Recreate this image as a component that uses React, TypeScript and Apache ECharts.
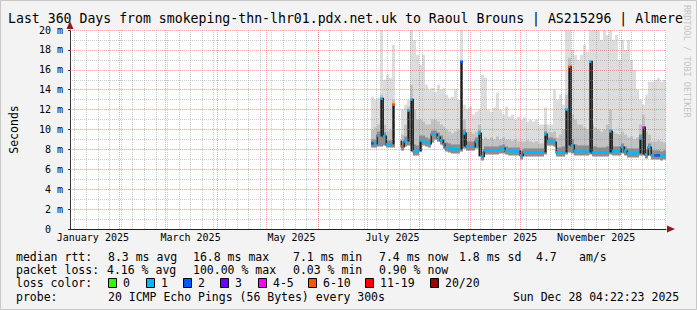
import React, { useEffect, useRef } from 'react';
import * as echarts from 'echarts';

const MONO = "'DejaVu Sans Mono', monospace";
const DAY_MS = 86400000;
const GRAPH_START = Date.UTC(2025, 0, 2, 4, 22, 23);
const GRAPH_DAYS = 360;
const dayOf = (iso: string) => (Date.parse(iso + 'T00:00:00Z') - GRAPH_START) / DAY_MS;

const titleText = 'Last 360 Days from smokeping-thn-lhr01.pdx.net.uk to Raoul Brouns | AS215296 | Almere';

// data bins (each bin = binDays), starting at dataStartDay (days since graph start)
const dataStartDay = 181.8;
const binDays = 1.8;

const median = [
  8.6, 8.6, 9.4, 13.1, 9.3, 8.5, 8.5, 12.5, null, null,
  8.3, 8.8, 11.9, 13.0, 7.8, 7.8, 8.9, 8.8, 8.7, 8.6,
  9.5, 9.5, 9.2, 8.9, 8.5, 8.2, 8.1, 8.0, 8.0, 8.0,
  16.8, 9.6, 8.3, 8.3, 8.3, 8.8, 9.6, 7.3, 7.9, 7.9,
  7.9, 7.9, 7.9, 8.0, 8.1, 7.85, 7.8, 7.8, 7.8, 7.8,
  7.4, 7.7, 7.7, 7.7, 7.7, 7.7, 7.7, 7.7, 9.5, 8.8,
  8.8, 8.7, 7.7, 7.7, 7.7, 12.0, 16.3, 8.4, 7.8, 7.8,
  7.8, 7.8, 7.8, 16.8, 7.7, 7.7, 7.7, 7.7, 7.7, 7.7,
  9.8, 7.8, 7.8, 7.8, 8.2, 7.8, 7.6, 7.6, 7.6, 7.6,
  9.1, 10.2, 7.5, 8.2, 7.4, 7.4, 7.4, 7.3, 7.4,
];

const smokeLow = [
  8.2, 8.2, 8.3, 8.3, 8.4, 8.2, 8.2, 8.2, null, null,
  7.9, 8.3, 8.4, 8.4, 7.4, 7.4, 7.8, 8.4, 8.3, 8.2,
  8.7, 9.0, 8.8, 8.5, 8.1, 7.8, 7.7, 7.6, 7.6, 7.6,
  7.8, 8.1, 7.9, 7.9, 7.9, 8.1, 8.2, 6.9, 7.5, 7.5,
  7.5, 7.5, 7.5, 7.6, 7.6, 7.5, 7.4, 7.4, 7.4, 7.4,
  7.0, 7.3, 7.3, 7.3, 7.3, 7.3, 7.3, 7.3, 7.5, 8.4,
  8.4, 8.3, 7.3, 7.3, 7.3, 7.5, 7.7, 7.6, 7.4, 7.4,
  7.4, 7.4, 7.4, 7.5, 7.3, 7.3, 7.3, 7.3, 7.3, 7.3,
  7.5, 7.4, 7.4, 7.4, 7.6, 7.4, 7.2, 7.2, 7.2, 7.2,
  7.4, 7.4, 7.1, 7.4, 7.0, 7.0, 7.0, 6.9, 7.0,
];

const smokeDark = [
  9.0, 9.0, 9.8, 13.1, 9.7, 8.9, 8.9, 12.5, null, null,
  8.8, 9.3, 11.9, 13.0, 8.5, 8.4, 9.4, 9.4, 9.2, 9.1,
  9.9, 9.9, 9.7, 9.4, 9.0, 8.7, 8.6, 8.5, 8.5, 8.5,
  16.8, 10.0, 8.8, 8.8, 8.8, 9.2, 9.9, 7.8, 8.3, 8.3,
  8.3, 8.3, 8.3, 8.4, 8.5, 8.3, 8.2, 8.2, 8.2, 8.2,
  7.9, 8.1, 8.1, 8.1, 8.1, 8.1, 8.1, 8.1, 9.8, 9.2,
  9.2, 9.1, 8.2, 8.2, 8.3, 12.0, 16.3, 9.0, 8.5, 8.4,
  8.4, 8.4, 8.4, 16.8, 8.3, 8.3, 8.2, 8.2, 8.2, 8.3,
  10.0, 8.3, 8.3, 8.3, 8.6, 8.3, 8.1, 8.1, 8.1, 8.1,
  9.5, 10.2, 8.0, 8.6, 7.9, 7.9, 7.9, 7.8, 7.9,
];

const smokeMid = [
  10.0, 10.2, 10.5, 13.5, 10.5, 9.8, 10.0, 13.0, null, null,
  9.5, 10.5, 12.3, 14.5, 12.0, 11.0, 11.0, 10.8, 10.5, 10.5,
  11.0, 11.0, 10.8, 10.5, 10.3, 10.0, 9.8, 9.6, 9.8, 10.0,
  17.0, 11.0, 9.8, 9.8, 9.6, 9.8, 10.5, 9.0, 9.2, 9.0,
  9.2, 9.0, 9.3, 9.0, 9.2, 9.0, 9.0, 8.9, 9.0, 8.8,
  8.8, 8.8, 8.9, 8.8, 8.7, 8.8, 8.6, 8.6, 10.5, 9.8,
  9.7, 9.8, 9.2, 9.5, 10.0, 13.5, 17.2, 11.5, 11.0, 10.5,
  10.5, 10.2, 10.0, 17.0, 10.5, 10.2, 10.0, 9.8, 10.0, 10.5,
  12.0, 9.8, 9.6, 9.5, 9.8, 9.5, 9.2, 9.3, 9.0, 9.2,
  10.5, 11.5, 9.8, 9.5, 8.8, 8.8, 8.9, 8.8, 8.7,
];

const smokeMax = [
  13.3, 13.0, 13.2, 20.5, 15.0, 15.5, 15.2, 18.5, null, null,
  12.0, 12.5, 13.0, 20.5, 19.0, 17.5, 16.5, 17.5, 14.5, 14.0,
  14.2, 13.8, 14.5, 14.0, 14.2, 13.5, 13.2, 13.3, 14.0, 13.0,
  20.5, 12.5, 12.0, 12.3, 11.5, 11.8, 12.0, 15.5, 15.2, 12.0,
  11.8, 12.2, 13.7, 12.0, 11.5, 12.3, 11.3, 11.5, 11.0, 11.3,
  11.0, 11.2, 10.8, 11.0, 10.8, 11.0, 10.5, 10.5, 12.2, 10.5,
  10.5, 14.0, 13.0, 13.5, 12.5, 20.5, 20.5, 18.0, 17.5, 17.0,
  17.5, 18.5, 17.8, 20.5, 20.5, 20.5, 20.5, 19.0, 20.5, 19.5,
  20.5, 19.0, 19.5, 17.0, 19.0, 18.0, 19.0, 17.0, 16.0, 14.0,
  13.0, 12.5, 13.5, 14.8, 14.8, 15.0, 15.2, 14.8, 15.0,
];

// packet loss class (lost pings out of 20) per bin
const lossClass = [
  2, 1, 1, 1, 1, 1, 1, 6, null, null,
  6, 1, 1, 1, 1, 1, 1, 1, 1, 1,
  1, 1, 1, 1, 1, 1, 1, 1, 1, 1,
  2, 1, 1, 1, 1, 1, 1, 1, 1, 1,
  1, 1, 1, 1, 1, 1, 1, 1, 1, 1,
  1, 1, 1, 1, 1, 1, 1, 1, 1, 1,
  1, 1, 1, 1, 1, 1, 6, 1, 1, 1,
  1, 1, 1, 1, 1, 1, 1, 1, 1, 1,
  1, 1, 1, 1, 1, 1, 1, 1, 1, 1,
  1, 4, 1, 1, 1, 2, 2, 1, 1,
];

const lossColor: Record<number, string> = {
  0: '#26ff00', 1: '#00b8ff', 2: '#0059ff', 3: '#7000ff', 4: '#ff00ff', 6: '#ff5500', 11: '#ff0000', 20: '#a00000',
};

const yTicks = [0, 2, 4, 6, 8, 10, 12, 14, 16, 18, 20];
const monthLabels = ['January 2025', 'March 2025', 'May 2025', 'July 2025', 'September 2025', 'November 2025'];
const monthLabelDates = ['2025-01-16', '2025-03-16', '2025-05-16', '2025-07-16', '2025-09-16', '2025-11-16'];
const monthStartDates = [
  '2025-02-01', '2025-03-01', '2025-04-01', '2025-05-01', '2025-06-01', '2025-07-01',
  '2025-08-01', '2025-09-01', '2025-10-01', '2025-11-01', '2025-12-01',
];
const firstWeekLine = '2025-01-05';

const medianStats = ['8.3 ms avg', '16.8 ms max', '7.1 ms min', '7.4 ms now', '1.8 ms sd', '4.7', 'am/s'];
const lossStats = ['4.16 % avg', '100.00 % max', '0.03 % min', '0.90 % now'];
const lossLegend = [
  { label: '0', color: '#26ff00' },
  { label: '1', color: '#00b8ff' },
  { label: '2', color: '#0059ff' },
  { label: '3', color: '#7000ff' },
  { label: '4-5', color: '#ff00ff' },
  { label: '6-10', color: '#ff5500' },
  { label: '11-19', color: '#ff0000' },
  { label: '20/20', color: '#a00000' },
];
const probeText = '20 ICMP Echo Pings (56 Bytes) every 300s';
const stampText = 'Sun Dec 28 04:22:23 2025';

export default function App() {
  const ref = useRef<HTMLDivElement>(null);

  useEffect(() => {
    if (!ref.current) return;
    const chart = echarts.init(ref.current, undefined, { renderer: 'svg' });

    const items: number[][] = [];
    median.forEach((m, i) => {
      if (m == null) return;
      const prevRaw = i > 0 ? median[i - 1] : null;
      const nextRaw = i < median.length - 1 ? median[i + 1] : null;
      const prev = prevRaw != null ? prevRaw : nextRaw != null ? nextRaw : m;
      const next = nextRaw != null ? nextRaw : prev;
      items.push([
        dataStartDay + i * binDays,
        smokeLow[i] as number,
        smokeDark[i] as number,
        smokeMid[i] as number,
        smokeMax[i] as number,
        m,
        lossClass[i] as number,
        prev,
        next,
      ]);
    });

    const renderSmoke = (_params: any, api: any) => {
      const x0 = api.value(0);
      const lo = api.value(1), dk = api.value(2), md = api.value(3), mx = api.value(4);
      const med = api.value(5), loss = api.value(6), prev = api.value(7), next = api.value(8);
      const left = Math.round(api.coord([x0, 0])[0]);
      const right = Math.round(api.coord([x0 + binDays, 0])[0]);
      const w = right - left;
      const py = (v: number) => api.coord([x0, v])[1];
      const kids: any[] = [];
      const band = (a: number, b: number, fill: string) => {
        const y1 = py(b), y2 = py(a);
        kids.push({ type: 'rect', shape: { x: left, y: y1, width: w, height: y2 - y1 }, style: { fill } });
      };
      band(lo, mx, '#dddddd');
      band(lo, md, '#c2c2c2');
      band(lo, dk, '#8e8e8e');
      const base = Math.min(prev, next);
      if (med - base > 1.0) {
        kids.push({ type: 'rect', shape: { x: left + 0.5, y: py(med), width: 2, height: py(base) - py(med) }, style: { fill: '#1e1e1e' } });
      } else if (Math.abs(med - prev) > 0.2) {
        const a = Math.min(med, prev), b = Math.max(med, prev);
        kids.push({ type: 'rect', shape: { x: left - 0.5, y: py(b) - 1, width: 1.5, height: py(a) - py(b) + 2 }, style: { fill: '#2a2a2a' } });
      }
      kids.push({ type: 'rect', shape: { x: left, y: py(med) - 1.25, width: w, height: 2.5 }, style: { fill: lossColor[loss] || '#00b8ff' } });
      return { type: 'group', children: kids };
    };

    const gray = 'rgba(140,140,140,0.45)';
    const red = 'rgba(235,80,80,0.5)';
    const gridLines: any[] = [];
    for (let d = dayOf(firstWeekLine); d < GRAPH_DAYS; d += 7) {
      gridLines.push({ xAxis: d, lineStyle: { color: gray, type: [1, 1], width: 1 } });
    }
    monthStartDates.forEach((s) => gridLines.push({ xAxis: dayOf(s), lineStyle: { color: red, type: [1, 1], width: 1 } }));
    for (let v = 1; v <= 20; v++) {
      gridLines.push({ yAxis: v, lineStyle: { color: v % 2 === 0 ? red : gray, type: [1, 1], width: 1 } });
    }

    const markPoints: any[] = monthLabels.map((lab, i) => ({
      coord: [dayOf(monthLabelDates[i]), 0],
      symbol: 'circle',
      symbolSize: 0,
      label: { show: true, position: 'bottom', distance: 3, formatter: lab, fontFamily: MONO, fontSize: 10, color: '#000' },
    }));
    markPoints.push({
      coord: [0, 20], symbol: 'triangle', symbolSize: [7, 8], symbolOffset: [0, -5],
      itemStyle: { color: '#8b1c1c' }, label: { show: false },
    });
    markPoints.push({
      coord: [GRAPH_DAYS, 0], symbol: 'triangle', symbolSize: [7, 8], symbolRotate: -90, symbolOffset: [5, 0],
      itemStyle: { color: '#8b1c1c' }, label: { show: false },
    });

    const text = (x: number, y: number, s: string) => ({
      type: 'text', x, y, silent: true,
      style: { text: s, fontFamily: MONO, fontSize: 11.5, fill: '#000', align: 'left', verticalAlign: 'middle' },
    });
    const medianX = [108, 193, 293, 379, 459, 536, 579];
    const lossX = [107, 193, 293, 379];
    const boxX = [108, 146, 183, 220, 258, 308, 365, 430];
    const graphics: any[] = [
      { type: 'rect', silent: true, shape: { x: 0.5, y: 0.5, width: 696, height: 309 }, style: { fill: 'none', stroke: '#c8c8c8', lineWidth: 1 } },
      {
        type: 'text', x: 8, y: 18.5, silent: true,
        style: { text: titleText, fontFamily: MONO, fontSize: 13.2, fill: '#000', align: 'left', verticalAlign: 'middle' },
      },
      {
        type: 'text', x: 687, y: 5, rotation: -Math.PI / 2, silent: true,
        style: { text: 'RRDTOOL / TOBI OETIKER', fontFamily: MONO, fontSize: 8.5, fill: '#c4c4c4', align: 'left', verticalAlign: 'middle' },
      },
      text(16, 256.5, 'median rtt:'),
      ...medianStats.map((s, i) => text(medianX[i], 256.5, s)),
      text(16, 269.5, 'packet loss:'),
      ...lossStats.map((s, i) => text(lossX[i], 269.5, s)),
      text(16, 283, 'loss color:'),
      ...lossLegend.flatMap((l, i) => [
        { type: 'rect', silent: true, shape: { x: boxX[i] + 0.5, y: 278.5, width: 8, height: 9 }, style: { fill: l.color, stroke: '#000', lineWidth: 1 } },
        text(boxX[i] + 15, 283, l.label),
      ]),
      text(16, 296.5, 'probe:'),
      text(108, 296.5, probeText),
      text(513, 296.5, stampText),
    ];

    chart.setOption({
      animation: false,
      backgroundColor: '#f3f3f3',
      grid: { left: 66, top: 30, width: 600, height: 199, show: true, backgroundColor: '#ffffff', borderWidth: 0 },
      xAxis: {
        type: 'value', min: 0, max: GRAPH_DAYS,
        axisLine: { show: true, onZero: false, lineStyle: { color: '#222', width: 1 } },
        axisTick: { show: false }, axisLabel: { show: false }, splitLine: { show: false },
      },
      yAxis: {
        type: 'value', min: 0, max: 20, interval: 2,
        name: 'Seconds', nameLocation: 'middle', nameRotate: 90, nameGap: 50,
        nameTextStyle: { fontFamily: MONO, fontSize: 11.5, color: '#000' },
        axisLine: { show: true, lineStyle: { color: '#333', width: 1 } },
        axisTick: { show: true, length: 2, lineStyle: { color: '#333' } },
        axisLabel: {
          margin: 7, fontFamily: MONO, fontSize: 10, color: '#000',
          formatter: (v: number) => (yTicks.includes(v) ? (v === 0 ? '0\u00a0\u00a0' : `${v} m`) : ''),
        },
        splitLine: { show: false },
      },
      graphic: graphics,
      series: [
        {
          type: 'custom', renderItem: renderSmoke, data: items, clip: true, z: 2,
          encode: { x: 0, y: [1, 2, 3, 4, 5] }, silent: true,
        },
        {
          type: 'line', data: [], z: 5, silent: true,
          markLine: { silent: true, symbol: ['none', 'none'], label: { show: false }, data: gridLines },
          markPoint: { silent: true, data: markPoints },
        },
      ],
    });

    return () => chart.dispose();
  }, []);

  return <div ref={ref} style={{ position: 'fixed', left: 0, top: 0, width: 697, height: 310 }} />;
}
